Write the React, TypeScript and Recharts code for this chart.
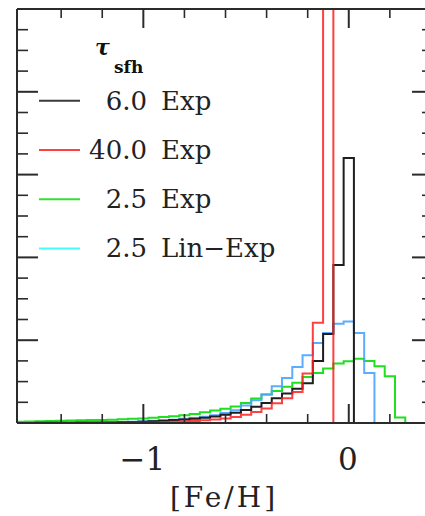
import React from 'react';
import { LineChart, Line, XAxis, YAxis, Legend } from 'recharts';

// bin centres of the [Fe/H] histograms (bin width 0.05)
const binCenters = [
  -1.6, -1.55, -1.5, -1.45, -1.4, -1.35, -1.3, -1.25, -1.2, -1.15,
  -1.1, -1.05, -1.0, -0.95, -0.9, -0.85, -0.8, -0.75, -0.7, -0.65,
  -0.6, -0.55, -0.5, -0.45, -0.4, -0.35, -0.3, -0.25, -0.2, -0.15,
  -0.1, -0.05, 0.0, 0.05, 0.1, 0.15, 0.2, 0.25, 0.3, 0.35,
];
const BIN = 0.05;

// tau_sfh = 6.0 Exp
const exp60 = [
  0, 0, 0.01, 0.01, 0.01, 0.01, 0.02, 0.02, 0.02, 0.03,
  0.04, 0.05, 0.06, 0.08, 0.11, 0.14, 0.17, 0.21, 0.25, 0.32,
  0.4, 0.5, 0.63, 0.78, 0.97, 1.2, 1.42, 1.65, 1.92, 3.0,
  4.3, 7.63, 12.8, 0, 0, 0, 0, 0, 0, 0,
];
// tau_sfh = 40.0 Exp (peak runs off the top)
const exp400 = [
  0, 0, 0, 0, 0, 0, 0, 0, 0.01, 0.01,
  0.01, 0.02, 0.02, 0.03, 0.04, 0.06, 0.08, 0.1, 0.13, 0.17,
  0.22, 0.29, 0.4, 0.53, 0.7, 0.95, 1.2, 1.5, 2.39, 4.84,
  40, 0, 0, 0, 0, 0, 0, 0, 0, 0,
];
// tau_sfh = 2.5 Exp
const exp25 = [
  0.06, 0.07, 0.08, 0.1, 0.11, 0.12, 0.13, 0.14, 0.15, 0.16,
  0.18, 0.2, 0.22, 0.25, 0.29, 0.33, 0.38, 0.44, 0.52, 0.6,
  0.69, 0.8, 0.97, 1.18, 1.38, 1.55, 1.75, 1.95, 2.22, 2.42,
  2.63, 2.87, 2.98, 3.1, 3.0, 2.74, 2.26, 0.26, 0, 0,
];
// tau_sfh = 2.5 Lin-Exp
const linExp25 = [
  0, 0.01, 0.01, 0.01, 0.02, 0.02, 0.02, 0.03, 0.03, 0.04,
  0.05, 0.06, 0.08, 0.1, 0.13, 0.16, 0.2, 0.24, 0.3, 0.38,
  0.48, 0.62, 0.85, 1.1, 1.38, 1.78, 2.17, 2.7, 3.27, 3.86,
  4.35, 4.8, 4.9, 4.35, 2.42, 0, 0, 0, 0, 0,
];

const xTicks = [-1.4, -1.2, -1.0, -0.8, -0.6, -0.4, -0.2, 0, 0.2];
const xTickLabels: Record<string, string> = { '-1': '\u22121', '0': '0' };
const yTicks = [1, 2, 3, 4, 5, 6, 7, 8, 9, 10, 11, 12, 13, 14, 15, 16, 17, 18, 19];

const legendTaus = ['6.0', '40.0', '2.5', '2.5'];
const legendKinds = ['Exp', 'Exp', 'Exp', 'Lin\u2212Exp'];

const lineColors = ['#1e1e1e', '#ff1f1f', '#1fe01f', '#4aa3ff'];
const legendColors = ['#3a3a3a', '#ff4040', '#33e033', '#44ffff'];

const FONT = '"DejaVu Serif", serif';
const AXIS = '#2b2b2b';

const data = binCenters.map((c, i) => ({
  edge: c - BIN / 2,
  exp60: exp60[i],
  exp400: exp400[i],
  exp25: exp25[i],
  linExp25: linExp25[i],
}));
// closing point so the last step is drawn
data.push({
  edge: binCenters[binCenters.length - 1] + BIN / 2,
  exp60: exp60[exp60.length - 1],
  exp400: exp400[exp400.length - 1],
  exp25: exp25[exp25.length - 1],
  linExp25: linExp25[linExp25.length - 1],
});

const isMajorX = (v: number) => Math.abs(v - Math.round(v)) < 1e-6;
const isMajorY = (v: number) => v % 4 === 0;

function BottomTick(props: any) {
  const { x, y, payload } = props;
  const v = payload.value;
  const major = isMajorX(v);
  const key = String(Math.round(v));
  return (
    <g>
      <line x1={x} x2={x} y1={y} y2={y - (major ? 19 : 9)} stroke={AXIS} strokeWidth={major ? 2 : 1.6} />
      {major && (
        <text x={x - 1} y={y + 47} textAnchor="middle" fontFamily={FONT} fontSize={31} fill="#222">
          {xTickLabels[key]}
        </text>
      )}
    </g>
  );
}

function TopTick(props: any) {
  const { x, y, payload } = props;
  const major = isMajorX(payload.value);
  return <line x1={x} x2={x} y1={y} y2={y + (major ? 19 : 9)} stroke={AXIS} strokeWidth={major ? 2 : 1.6} />;
}

function LeftTick(props: any) {
  const { x, y, payload } = props;
  const major = isMajorY(payload.value);
  return <line x1={x} x2={x + (major ? 21 : 11)} y1={y} y2={y} stroke={AXIS} strokeWidth={major ? 2 : 1.6} />;
}

function RightTick(props: any) {
  const { x, y, payload } = props;
  const major = isMajorY(payload.value);
  return <line x1={x} x2={x - (major ? 21 : 11)} y1={y} y2={y} stroke={AXIS} strokeWidth={major ? 2 : 1.6} />;
}

function LegendBox() {
  return (
    <svg width={300} height={270} style={{ display: 'block' }}>
      <text x={95} y={55} fontFamily={FONT} fontStyle="italic" fontWeight="bold" fontSize={22} fill="#111">
        {'\u03c4'}
      </text>
      <text x={114} y={73} fontFamily={FONT} fontWeight="bold" fontSize={17} fill="#111">
        sfh
      </text>
      {legendTaus.map((t, i) => (
        <g key={i}>
          <line x1={39} x2={80} y1={100.7 + 49.3 * i} y2={100.7 + 49.3 * i} stroke={legendColors[i]} strokeWidth={2} />
          <text x={147} y={109.5 + 49.2 * i} textAnchor="end" fontFamily={FONT} fontSize={26} fill="#222">
            {t}
          </text>
          <text x={161} y={109.5 + 49.2 * i} fontFamily={FONT} fontSize={26} fill="#222">
            {legendKinds[i]}
          </text>
        </g>
      ))}
    </svg>
  );
}

const X_DOMAIN: [number, number] = [-1.615, 0.41];

export default function App() {
  return (
    <div
      style={{
        position: 'fixed',
        left: 0,
        top: 0,
        width: 425,
        height: 516,
        overflow: 'hidden',
        background: '#fff',
      }}
    >
      <LineChart width={445} height={516} data={data} margin={{ top: 0, right: 0, bottom: 0, left: 0 }}>
        <XAxis
          xAxisId="b"
          dataKey="edge"
          type="number"
          domain={X_DOMAIN}
          allowDataOverflow
          ticks={xTicks}
          interval={0}
          height={93}
          tickSize={0}
          tickMargin={0}
          tick={(p: any) => <BottomTick {...p} />}
          axisLine={{ stroke: AXIS, strokeWidth: 2 }}
          label={(p: any) => {
            const vb = p.viewBox || { x: 17, y: 423, width: 416 };
            return (
              <text
                x={224}
                y={vb.y + 84}
                textAnchor="middle"
                fontFamily={FONT}
                fontSize={28}
                letterSpacing={3}
                fill="#222"
              >
                [Fe/H]
              </text>
            );
          }}
        />
        <XAxis
          xAxisId="t"
          orientation="top"
          dataKey="edge"
          type="number"
          domain={X_DOMAIN}
          allowDataOverflow
          ticks={xTicks}
          interval={0}
          height={9}
          tickSize={0}
          tickMargin={0}
          tick={(p: any) => <TopTick {...p} />}
          axisLine={{ stroke: AXIS, strokeWidth: 2 }}
        />
        <YAxis
          yAxisId="l"
          type="number"
          domain={[0, 20]}
          allowDataOverflow
          ticks={yTicks}
          interval={0}
          width={17}
          tickSize={0}
          tickMargin={0}
          tick={(p: any) => <LeftTick {...p} />}
          axisLine={{ stroke: AXIS, strokeWidth: 2 }}
        />
        <YAxis
          yAxisId="r"
          orientation="right"
          type="number"
          domain={[0, 20]}
          allowDataOverflow
          ticks={yTicks}
          interval={0}
          width={12}
          tickSize={0}
          tickMargin={0}
          tick={(p: any) => <RightTick {...p} />}
          axisLine={{ stroke: AXIS, strokeWidth: 2 }}
        />
        <Legend
          layout="vertical"
          align="center"
          verticalAlign="middle"
          wrapperStyle={{ position: 'absolute', left: 0, top: 0, width: 300, height: 270 }}
          content={() => <LegendBox />}
        />
        <Line xAxisId="b" yAxisId="l" dataKey="exp25" type="stepAfter" stroke={lineColors[2]} strokeWidth={2} dot={false} activeDot={false} isAnimationActive={false} />
        <Line xAxisId="b" yAxisId="l" dataKey="linExp25" type="stepAfter" stroke={lineColors[3]} strokeWidth={2} strokeOpacity={0.9} dot={false} activeDot={false} isAnimationActive={false} />
        <Line xAxisId="b" yAxisId="l" dataKey="exp60" type="stepAfter" stroke={lineColors[0]} strokeWidth={2} dot={false} activeDot={false} isAnimationActive={false} />
        <Line xAxisId="b" yAxisId="l" dataKey="exp400" type="stepAfter" stroke={lineColors[1]} strokeWidth={2} strokeOpacity={0.85} dot={false} activeDot={false} isAnimationActive={false} />
      </LineChart>
    </div>
  );
}
